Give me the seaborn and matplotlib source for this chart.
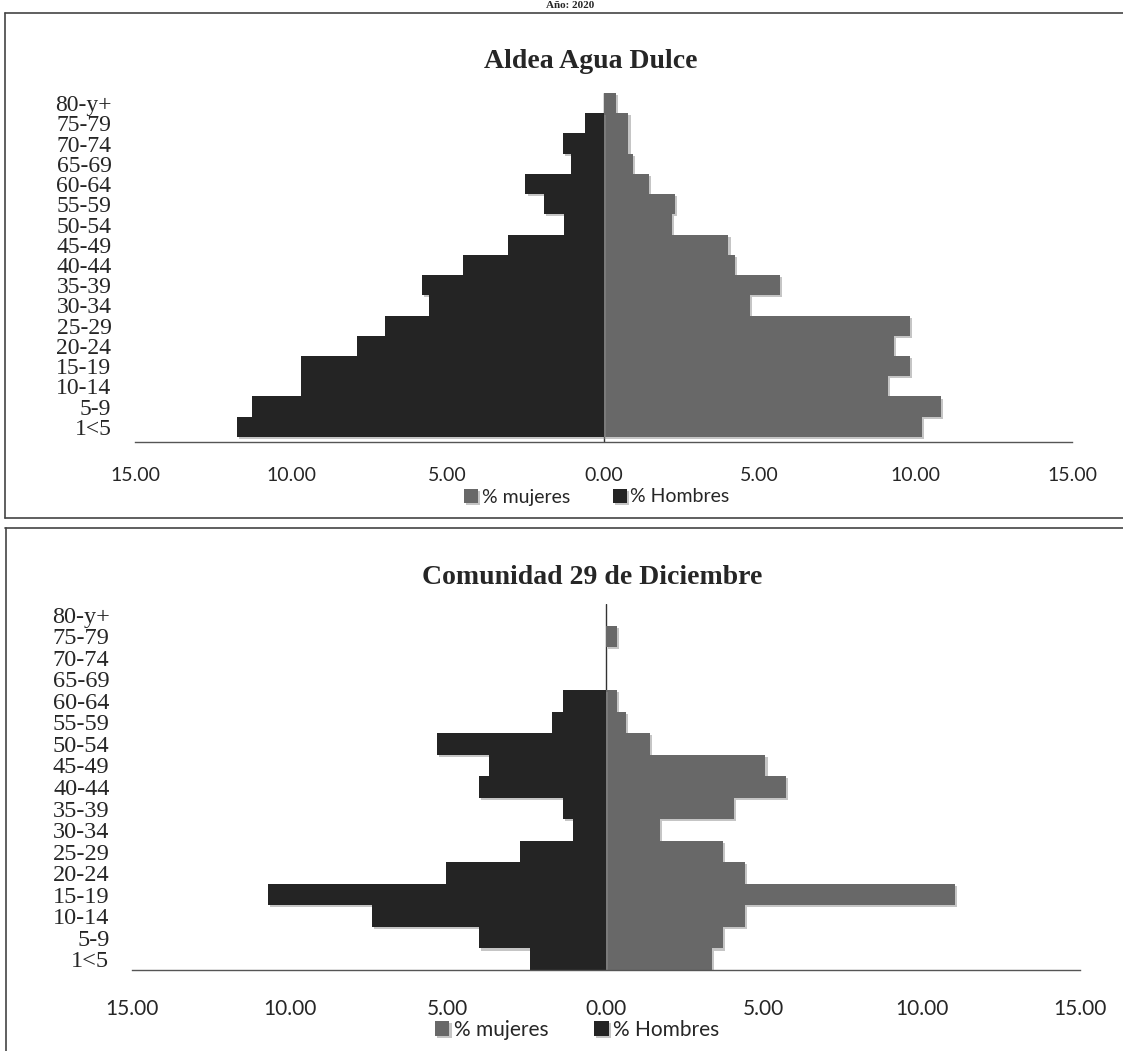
import numpy as np
import pandas as pd
import matplotlib
matplotlib.use("Agg")
import matplotlib.pyplot as plt
import matplotlib.patheffects as pe
from matplotlib.lines import Line2D
import seaborn as sns

# grupos de edad, de arriba hacia abajo
grupos = ["80-y+", "75-79", "70-74", "65-69", "60-64", "55-59", "50-54", "45-49",
          "40-44", "35-39", "30-34", "25-29", "20-24", "15-19", "10-14", "5-9", "1<5"]

# Aldea Agua Dulce (%)
hombres_agua = [0.0, 0.6, 1.3, 1.05, 2.5, 1.9, 1.25, 3.05, 4.5, 5.8, 5.6, 7.0, 7.9, 9.7, 9.7, 11.25, 11.75]
mujeres_agua = [0.4, 0.8, 0.8, 0.95, 1.45, 2.3, 2.2, 4.0, 4.2, 5.65, 4.7, 9.8, 9.3, 9.8, 9.1, 10.8, 10.2]

# Comunidad 29 de Diciembre (%)
hombres_29 = [0.0, 0.0, 0.0, 0.0, 1.35, 1.7, 5.35, 3.7, 4.0, 1.35, 1.05, 2.7, 5.05, 10.7, 7.4, 4.0, 2.4]
mujeres_29 = [0.0, 0.35, 0.0, 0.0, 0.35, 0.65, 1.4, 5.05, 5.7, 4.05, 1.7, 3.7, 4.4, 11.05, 4.4, 3.7, 3.35]

ticks = [-15, -10, -5, 0, 5, 10, 15]
tick_labels = ["%.2f" % abs(t) for t in ticks]

color_m = "#686868"
color_h = "#242424"

sns.set_style("white")
plt.rcParams["font.family"] = ["Lato", "DejaVu Sans"]

W, H = 1123, 1051
fig = plt.figure(figsize=(W / 100, H / 100), dpi=100)


def piramide(ax, hombres, mujeres, ylim_bottom, tick_size, ylab_size, ylab_pad, xlab_pad):
    df = pd.DataFrame({
        "grupo": grupos * 2,
        "valor": list(mujeres) + [-v for v in hombres],
        "sexo": ["% mujeres"] * len(grupos) + ["% Hombres"] * len(grupos),
    })
    ax.axvline(0, color="#333333", lw=1, zorder=0.5)
    sns.barplot(data=df, x="valor", y="grupo", hue="sexo", order=grupos,
                hue_order=["% mujeres", "% Hombres"], palette=[color_m, color_h],
                dodge=False, width=1.0, orient="h", errorbar=None,
                saturation=1, linewidth=0, ax=ax)
    for p in ax.patches:
        p.set_path_effects([pe.SimplePatchShadow(offset=(1.5, -1.5), shadow_rgbFace="0.55", alpha=0.5),
                            pe.Normal()])
    ax.set_xlim(-15, 15)
    ax.set_ylim(ylim_bottom, -0.5)
    ax.set_xticks(ticks)
    ax.set_xticklabels(tick_labels, fontsize=tick_size)
    ax.set_xlabel("")
    ax.set_ylabel("")
    for lab in ax.get_yticklabels():
        lab.set_fontfamily("Liberation Serif")
        lab.set_fontsize(ylab_size)
    ax.tick_params(axis="y", length=0, pad=ylab_pad)
    ax.tick_params(axis="x", direction="out", length=5, width=1, color="#555555", pad=xlab_pad)
    for s in ["top", "left", "right"]:
        ax.spines[s].set_visible(False)
    ax.spines["bottom"].set_color("#555555")
    ax.spines["bottom"].set_linewidth(1)
    ax.set_facecolor("none")


# panel superior
ax1 = fig.add_axes([135 / W, 1 - 442 / H, 937 / W, 349 / H])
piramide(ax1, hombres_agua, mujeres_agua, 16.75, 14, 17, 17, 13)
h, l = ax1.get_legend_handles_labels()
ax1.legend(h, l, loc="center", bbox_to_anchor=(597 / W, 1 - 497 / H), bbox_transform=fig.transFigure,
           ncol=2, frameon=False, fontsize=14, handlelength=0.7, handleheight=0.7,
           handletextpad=0.2, columnspacing=2.2)

# panel inferior
ax2 = fig.add_axes([131.6 / W, 1 - 970 / H, 948.4 / W, 366 / H])
piramide(ax2, hombres_29, mujeres_29, 16.5, 15, 17.5, 16, 16)
h, l = ax2.get_legend_handles_labels()
ax2.legend(h, l, loc="center", bbox_to_anchor=(577 / W, 1 - 1030 / H), bbox_transform=fig.transFigure,
           ncol=2, frameon=False, fontsize=15, handlelength=0.7, handleheight=0.7,
           handletextpad=0.2, columnspacing=2.2)

# titulos
fig.text(591 / W, 1 - 62 / H, "Aldea Agua Dulce", ha="center", va="center",
         fontfamily="Liberation Serif", fontweight="bold", fontsize=20)
fig.text(592 / W, 1 - 578 / H, "Comunidad 29 de Diciembre", ha="center", va="center",
         fontfamily="Liberation Serif", fontweight="bold", fontsize=20)
fig.text(570 / W, 1 - 6 / H, "Año: 2020", ha="center", va="center",
         fontfamily="Liberation Serif", fontweight="bold", fontsize=8)

# marcos de los paneles
def linea(x0, y0, x1, y1, c="#444444"):
    fig.add_artist(Line2D([x0 / W, x1 / W], [1 - y0 / H, 1 - y1 / H], color=c, lw=1.2))

linea(5, 13, W, 13)
linea(5, 13, 5, 518)
linea(5, 518, W, 518)
linea(5, 528, W, 528)
linea(6, 528, 6, H)

fig.savefig("out.png", dpi=100, facecolor="white")
